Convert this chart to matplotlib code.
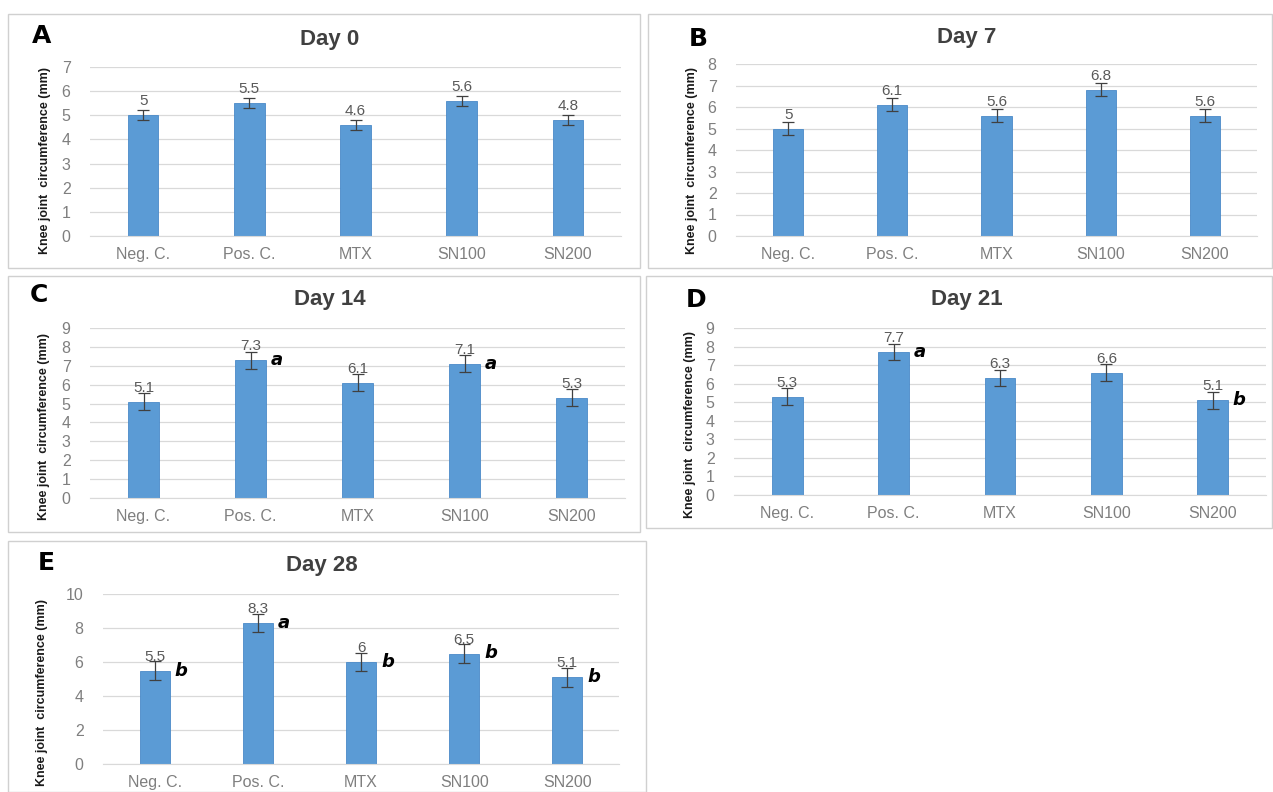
import matplotlib
matplotlib.use("Agg")
import matplotlib.pyplot as plt
from matplotlib.patches import Rectangle

W, H = 1273, 792

categories = ["Neg. C.", "Pos. C.", "MTX", "SN100", "SN200"]

day0 = [5.0, 5.5, 4.6, 5.6, 4.8]
day7 = [5.0, 6.1, 5.6, 6.8, 5.6]
day14 = [5.1, 7.3, 6.1, 7.1, 5.3]
day21 = [5.3, 7.7, 6.3, 6.6, 5.1]
day28 = [5.5, 8.3, 6.0, 6.5, 5.1]

err0 = [0.2, 0.2, 0.2, 0.2, 0.2]
err7 = [0.3, 0.3, 0.3, 0.3, 0.3]
err14 = [0.45, 0.45, 0.45, 0.45, 0.45]
err21 = [0.45, 0.45, 0.45, 0.45, 0.45]
err28 = [0.55, 0.55, 0.55, 0.55, 0.55]

sig14 = ["", "a", "", "a", ""]
sig21 = ["", "a", "", "", "b"]
sig28 = ["b", "a", "b", "b", "b"]

titles = ["Day 0", "Day 7", "Day 14", "Day 21", "Day 28"]
letters = ["A", "B", "C", "D", "E"]
ymaxes = [7, 8, 9, 9, 10]
ysteps = [1, 1, 1, 1, 2]

BAR = "#5B9BD5"
EDGE = "#4A8AC8"
GRID = "#D9D9D9"
TICK = "#7F7F7F"
TXT = "#595959"

fig = plt.figure(figsize=(W / 100, H / 100), dpi=100)
fig.patch.set_facecolor("white")

def fx(x):
    return x / W

def fy(y):
    return 1 - y / H

panels = [
    dict(frame=(8, 14, 640, 268), ax=(90, 621, 67, 236), title=(330, 39), letter=(42, 36), ylab=(45, 160)),
    dict(frame=(648, 14, 1272, 268), ax=(736, 1257, 64, 236), title=(967, 38), letter=(698, 39), ylab=(692, 160)),
    dict(frame=(8, 276, 640, 532), ax=(90, 625, 328, 498), title=(330, 300), letter=(39, 295), ylab=(44, 426)),
    dict(frame=(646, 276, 1272, 528), ax=(734, 1266, 328, 495), title=(967, 300), letter=(696, 300), ylab=(690, 424)),
    dict(frame=(8, 541, 646, 792), ax=(103, 619, 594, 764), title=(322, 566), letter=(46, 563), ylab=(42, 692)),
]

values = [day0, day7, day14, day21, day28]
errs = [err0, err7, err14, err21, err28]
sigs = [None, None, sig14, sig21, sig28]

for i, p in enumerate(panels):
    l, t, r, b = p["frame"]
    fig.add_artist(Rectangle((fx(l), fy(b)), fx(r - l), (b - t) / H,
                             transform=fig.transFigure, fill=False,
                             edgecolor="#D0D0D0", linewidth=1.0))
    al, ar, at, ab = p["ax"]
    ax = fig.add_axes([fx(al), fy(ab), fx(ar - al), (ab - at) / H])
    x = list(range(len(categories)))
    v = values[i]
    ax.bar(x, v, width=0.29, color=BAR, edgecolor=EDGE, linewidth=0.6, zorder=2)
    ax.errorbar(x, v, yerr=errs[i], fmt="none", ecolor="#404040",
                elinewidth=0.9, capsize=4, capthick=0.9, zorder=3)
    for xi, vi in zip(x, v):
        lab = f"{vi:g}"
        ax.annotate(lab, (xi, vi), xytext=(0, 10), textcoords="offset points",
                    ha="center", va="center", fontsize=11, color=TXT,
                    family="Liberation Sans", zorder=4)
    if sigs[i] is not None:
        for xi, vi, s in zip(x, v, sigs[i]):
            if s:
                ax.annotate(s, (xi, vi), xytext=(19, 0), textcoords="offset points",
                            ha="center", va="center", fontsize=13, color="black",
                            fontweight="bold", fontstyle="italic",
                            family="DejaVu Sans", zorder=4)
    ax.set_xlim(-0.5, len(categories) - 0.5)
    ax.set_ylim(0, ymaxes[i])
    ax.set_yticks(list(range(0, ymaxes[i] + 1, ysteps[i])))
    ax.set_xticks(x)
    ax.set_xticklabels(categories)
    ax.yaxis.grid(True, color=GRID, linewidth=0.9, zorder=0)
    ax.set_axisbelow(True)
    for s in ["top", "right", "left"]:
        ax.spines[s].set_visible(False)
    ax.spines["bottom"].set_color(GRID)
    ax.tick_params(axis="both", length=0, colors=TICK, labelsize=11.5)
    ax.tick_params(axis="y", pad=14)
    ax.tick_params(axis="x", pad=8)
    for lbl in ax.get_xticklabels() + ax.get_yticklabels():
        lbl.set_family("Liberation Sans")
    ax.set_facecolor("none")

    tx, ty = p["title"]
    fig.text(fx(tx), fy(ty), titles[i], ha="center", va="center",
             fontsize=16, fontweight="bold", color="#404040", family="Liberation Sans")
    lx, ly = p["letter"]
    fig.text(fx(lx), fy(ly), letters[i], ha="center", va="center",
             fontsize=18, fontweight="heavy", color="black", family="DejaVu Sans")
    yx, yy = p["ylab"]
    fig.text(fx(yx), fy(yy), "Knee joint  circumference (mm)", ha="center", va="center",
             rotation=90, fontsize=9, fontweight="bold", color="#1a1a1a",
             family="Liberation Sans")

fig.savefig("out.png", dpi=100, facecolor="white")
